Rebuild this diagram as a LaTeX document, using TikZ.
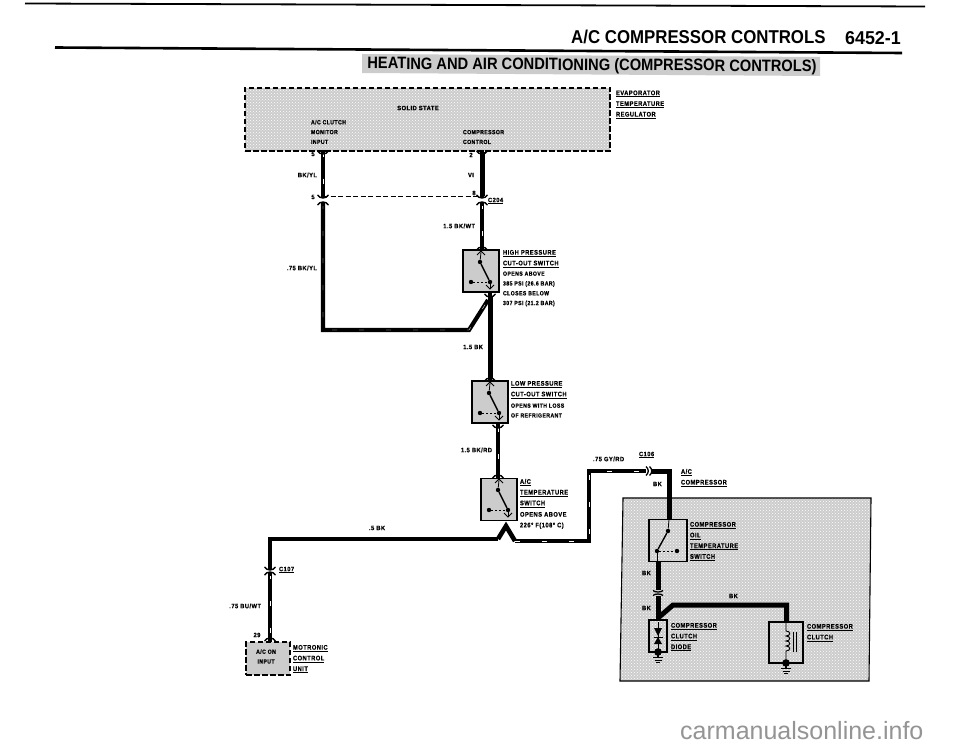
\documentclass[tikz,border=0pt]{standalone}
\usepackage{fontspec}
\usetikzlibrary{patterns,calc}
\setmainfont{Liberation Sans}
\newfontfamily\lblfont[FakeStretch=0.86,LetterSpace=7.0,FakeBold=0.4]{Liberation Sans Bold}
\newfontfamily\wlfont[FakeStretch=0.92,LetterSpace=7.0,FakeBold=0.4]{Liberation Sans Bold}
\newfontfamily\titlefont[FakeStretch=0.905]{Liberation Sans Bold}
\newfontfamily\numfont[FakeStretch=0.96]{Liberation Sans Bold}
\newfontfamily\subfont[FakeStretch=0.89]{Liberation Sans Bold}
\newcommand\ulb[1]{\underline{#1}}
\definecolor{panelgrey}{gray}{0.80}
\tikzset{
  x=1pt,y=-1pt,
  lbl/.style={font=\lblfont\fontsize{6.7}{10.7}\selectfont,align=left,anchor=north west,inner sep=0pt,outer sep=0pt},
  small/.style={lbl,font=\lblfont\fontsize{6.0}{9.8}\selectfont},
  wl/.style={lbl,font=\wlfont\fontsize{6.3}{9.2}\selectfont},
  wire/.style={line width=4.6pt,line join=miter,black},
  stripe/.style={wire,postaction={draw=white,line width=0.35pt,dash pattern=on 5pt off 22pt}},
  swbox/.style={draw=black,line width=1.4pt,fill=panelgrey,inner sep=0pt,outer sep=0pt,minimum width=36pt,minimum height=42pt},
  dashbox/.style={draw=black,line width=1.5pt,dash pattern=on 5.5pt off 2.5pt,fill=panelgrey,inner sep=0pt,outer sep=0pt},
  dot/.style={circle,fill=black,inner sep=0pt,minimum size=4.4pt},
  capd/.pic={\draw[line width=1.4pt,black] (-5.5,-2) .. controls (-3,2) and (3,2) .. (5.5,-2);\fill (-2.2,-3) rectangle (2.2,1);},
  capu/.pic={\draw[line width=1.4pt,black] (-5.5,2) .. controls (-3,-2) and (3,-2) .. (5.5,2);\fill (-2.2,3) rectangle (2.2,-1);},
  swsym/.pic={
    \node[dot] (-a) at (17,12) {};
    \node[dot] (-b) at (27,32) {};
    \node[dot] (-c) at (8,32) {};
    \draw[line width=1.4pt] (-a) -- (-b);
    \draw[line width=0.8pt] (18,2) -- (-a);
    \draw[line width=0.8pt] (14,5) -- (18,1) -- (22,5);
    \draw[line width=0.8pt,dash pattern=on 2pt off 2pt] (-c) -- (-b);
    \draw[line width=0.8pt] (-b) -- (27,39);
    \draw[line width=0.8pt] (23,35) -- (27,39) -- (31,35);
  },
  gnd/.pic={
    \fill (0,0) circle (3.8pt);
    \draw[line width=1.1pt] (0,0) -- (0,5);
    \draw[line width=1.1pt] (-5,5.5) -- (5,5.5);
    \draw[line width=1pt] (-3.5,8) -- (3.5,8);
    \draw[line width=0.9pt] (-2,10.5) -- (2,10.5);
  }
}
\begin{document}
\begin{tikzpicture}
\useasboundingbox (0,0) rectangle (960,746);
\fill[white] (0,0) rectangle (960,746);
% header
\coordinate (r1a) at (25,3.5); \coordinate (r1b) at (925,6.5);
\coordinate (r2a) at (55,47.5); \coordinate (r2b) at (902,53);
\draw[line width=1.8pt] (r1a) -- (r1b);
\draw[line width=2.6pt] (r2a) -- (r2b);
\node[inner sep=0,anchor=west,font=\titlefont\fontsize{18.6}{20}\selectfont] (title) at (571,36.5) {A/C COMPRESSOR CONTROLS};
\node[inner sep=0,anchor=east,font=\numfont\fontsize{18.6}{20}\selectfont] (num) at (901,38) {6452-1};
\fill[panelgrey] (362,54) -- (820,57) -- (820,76) -- (362,73) -- cycle;
\node[inner sep=0,rotate=-0.38,font=\subfont\fontsize{16.5}{18}\selectfont] (sub) at (592,66) {HEATING AND AIR CONDITIONING (COMPRESSOR CONTROLS)};
% compressor panel
\fill[panelgrey] (623,498) -- (871,498) -- (869,681) -- (620,681) -- cycle;
\fill[pattern=crosshatch dots,pattern color=white] (623,498) -- (871,498) -- (869,681) -- (620,681) -- cycle;
\draw[line width=1.1pt] (623,498) -- (871,498) -- (869,681) -- (620,681) -- cycle;
% components
\node[dashbox,minimum width=365pt,minimum height=63pt] (reg) at (427.5,119.5) {};
\fill[pattern=crosshatch dots,pattern color=white] (247,90) rectangle (608,149);
\node[swbox] (hp) at (481,271) {};
\node[swbox] (lp) at (490,402) {};
\node[swbox] (ts) at (499,499.5) {};
\node[swbox,minimum width=38pt,minimum height=42pt,fill=none] (oil) at (668,540.5) {};
\node[swbox,minimum width=18pt,minimum height=32pt,fill=none] (dio) at (658,636) {};
\node[swbox,minimum width=34pt,minimum height=41pt,fill=none] (clu) at (786,642.5) {};
\node[dashbox,minimum width=44pt,minimum height=33pt] (mot) at (268,658.5) {};
% wire points
\coordinate (a1) at (323,152); \coordinate (a2) at (323,196);
\coordinate (a3) at (323,204); \coordinate (a4) at (323,330);
\coordinate (a5) at (469,330); \coordinate (a6) at (488,300);
\coordinate (b1) at (482,152); \coordinate (b2) at (482,196);
\coordinate (b3) at (482,204); \coordinate (b4) at (482,248);
\coordinate (c1) at (490,296); \coordinate (c2) at (490,379);
\coordinate (d1) at (498,427); \coordinate (d2) at (498,476);
\coordinate (e1) at (506,526); \coordinate (e2) at (498,539);
\coordinate (e3) at (270,539); \coordinate (e4) at (270,566);
\coordinate (e5) at (270,574); \coordinate (e6) at (270,639);
\coordinate (f1) at (515,541); \coordinate (f2) at (589,541);
\coordinate (f3) at (589,471); \coordinate (f4) at (646,471);
\coordinate (g1) at (651,471); \coordinate (g2) at (669,471);
\coordinate (h1) at (658,562); \coordinate (h2) at (658,590);
\coordinate (h3) at (658,596); \coordinate (h4) at (658,620);
\coordinate (j1) at (658,618); \coordinate (j2) at (673,605);
\coordinate (j3) at (786.5,605); \coordinate (j4) at (786.5,622);
% wires
\draw[stripe,line width=4pt] (a1) -- (a2);
\draw[stripe,line width=4.2pt] (a3) -- (a4) -- (a5) -- (a6);
\draw[wire,line width=5pt] (b1) -- (b2);
\draw[stripe,line width=4.2pt] (b3) -- (b4);
\draw[wire,line width=5pt] (c1) -- (c2);
\draw[stripe,line width=4.6pt] (d1) -- (d2);
\draw[wire] (e2) -- (e3) -- (e4);
\draw[wire,line width=4.6pt] (e2) -- (e1) -- (f1);
\draw[stripe,line width=4.2pt] (e5) -- (e6);
\draw[stripe] (f1) -- (f2) -- (f3) -- (f4);
\draw[wire,line width=5pt] (g1) -- (g2) -- (oil.north -| g2);
\draw[wire,line width=5pt] (h1) -- (h2);
\draw[wire,line width=5pt] (h3) -- (h4);
\draw[wire,line width=5pt] (j1) -- (j2) -- (j3) -- (j4);
\draw[line width=0.7pt,dash pattern=on 5pt off 2.5pt] (a2) -- (b2);
% caps
\pic at (323,153) {capd}; \pic at (482,153) {capd};
\pic at (323,197) {capd}; \pic at (323,203) {capu};
\pic at (482,197) {capd}; \pic at (482,203) {capu};
\pic at (482,248) {capu}; \pic at (490,296) {capd};
\pic at (490,379) {capu}; \pic at (498,427) {capd};
\pic at (498,476) {capu};
\pic at (270,569) {capd}; \pic at (270,573) {capu};
\pic at (270,639) {capu};
\draw[line width=1.3pt] (646,466.5) .. controls (649,469) and (649,473) .. (646,475.5);
\draw[line width=1.3pt] (649.5,466.5) .. controls (652.5,469) and (652.5,473) .. (649.5,475.5);
\draw[line width=1.3pt] (653,590.5) .. controls (655,592.5) and (661,592.5) .. (663,590.5);
\draw[line width=1.3pt] (653,595.5) .. controls (655,593.5) and (661,593.5) .. (663,595.5);
% switch symbols
\pic (s1) at (463,250) {swsym};
\pic (s2) at (472,381) {swsym};
\pic (s3) at (481,478) {swsym};
% oil switch
\node[dot] (o1) at (668,531) {};
\node[dot] (o2) at (657,551) {};
\node[dot] (o3) at (677,551) {};
\draw[line width=1.4pt] (o1) -- (o2);
\draw[line width=0.8pt] (g2 |- oil.north) -- (o1);
\draw[line width=0.8pt,dash pattern=on 2pt off 2pt] (o2) -- (o3);
\draw[line width=0.8pt] (o2) -- (oil.south -| o2);
% diode
\coordinate (dt) at (658,622); \coordinate (db) at (658,650);
\draw[line width=0.9pt] (dt) -- (db);
\fill (654,628) -- (662,628) -- (658,636) -- cycle;
\draw[line width=1pt] (653.5,637) -- (662.5,637);
\fill (654,644) -- (662,644) -- (658,637) -- cycle;
\pic at (658,652) {gnd};
% clutch coil
\coordinate (k1) at (786,622); \coordinate (k2) at (786,663);
\draw[line width=0.9pt] (k1) -- (786,631)
  .. controls (791,631) and (791,636) .. (786,636)
  .. controls (791,636) and (791,641) .. (786,641)
  .. controls (791,641) and (791,646) .. (786,646)
  .. controls (791,646) and (791,651) .. (786,651) -- (k2);
\draw[line width=0.8pt] (793,632) -- (793,652);
\draw[line width=0.8pt] (796,632) -- (796,652);
\pic at (786,663) {gnd};
% texts
\node[lbl] (evap) at (616,90.5) {\ulb{EVAPORATOR}\\\ulb{TEMPERATURE}\\\ulb{REGULATOR}};
\node[wl,anchor=center] (ss) at (418,108) {SOLID STATE};
\node[small] (acm) at (311,120) {A/C CLUTCH\\MONITOR\\INPUT};
\node[small] (cc) at (463,130) {COMPRESSOR\\CONTROL};
\node[wl,anchor=center] (p5a) at (313,154) {5};
\node[wl,anchor=center] (p2) at (471,155) {2};
\node[wl,anchor=east] (byl) at (317,175) {BK/YL};
\node[wl,anchor=center] (vi) at (471,175) {VI};
\node[wl,anchor=center] (p5b) at (313,197) {5};
\node[wl,anchor=center] (p8) at (474,193) {8};
\node[wl,anchor=west] (c204) at (488,201) {\ulb{C204}};
\node[wl,anchor=east] (bw) at (475,226) {1.5 BK/WT};
\node[wl,anchor=east] (byl2) at (317,268) {.75 BK/YL};
\node[lbl] (hpt) at (503,250) {\ulb{HIGH PRESSURE}\\\ulb{CUT-OUT SWITCH}};
\node[small] (hpn) at (503,271.5) {OPENS ABOVE\\385 PSI (26.6 BAR)\\CLOSES BELOW\\307 PSI (21.2 BAR)};
\node[wl,anchor=east] (bk1) at (483,347) {1.5 BK};
\node[lbl] (lpt) at (511,381) {\ulb{LOW PRESSURE}\\\ulb{CUT-OUT SWITCH}};
\node[small] (lpn) at (511,403.5) {OPENS WITH LOSS\\OF REFRIGERANT};
\node[wl,anchor=east] (brd) at (492,450) {1.5 BK/RD};
\node[lbl] (tst) at (520,479) {\ulb{A/C}\\\ulb{TEMPERATURE}\\\ulb{SWITCH}};
\node[lbl] (tsn) at (520,512) {OPENS ABOVE\\226° F(108° C)};
\node[wl,anchor=west] (bk5) at (369,528) {.5 BK};
\node[wl,anchor=west] (gy) at (593,459) {.75 GY/RD};
\node[wl,anchor=west] (c106) at (639,455) {\ulb{C106}};
\node[wl,anchor=west] (bkt) at (653,484) {BK};
\node[lbl] (acc) at (681,469) {\ulb{A/C}\\\ulb{COMPRESSOR}};
\node[lbl] (oilt) at (690,522) {\ulb{COMPRESSOR}\\\ulb{OIL}\\\ulb{TEMPERATURE}\\\ulb{SWITCH}};
\node[wl,anchor=west] (bk2) at (642,573) {BK};
\node[wl,anchor=west] (bk3) at (642,608) {BK};
\node[wl,anchor=west] (bk4) at (729,596) {BK};
\node[lbl] (diot) at (671,623) {\ulb{COMPRESSOR}\\\ulb{CLUTCH}\\\ulb{DIODE}};
\node[lbl] (clut) at (807,624) {\ulb{COMPRESSOR}\\\ulb{CLUTCH}};
\node[wl,anchor=west] (c107) at (279,570) {\ulb{C107}};
\node[wl,anchor=east] (bu) at (261,606) {.75 BU/WT};
\node[wl,anchor=center] (p29) at (257,635) {29};
\node[small,align=center,anchor=center] (aco) at (266,656.5) {A/C ON\\INPUT};
\node[lbl] (mott) at (293,645) {\ulb{MOTRONIC}\\\ulb{CONTROL}\\\ulb{UNIT}};
\node[inner sep=0,anchor=west,text=black!42,font=\fontsize{25}{28}\selectfont] (wm) at (680,731) {carmanualsonline.info};
\end{tikzpicture}
\end{document}
